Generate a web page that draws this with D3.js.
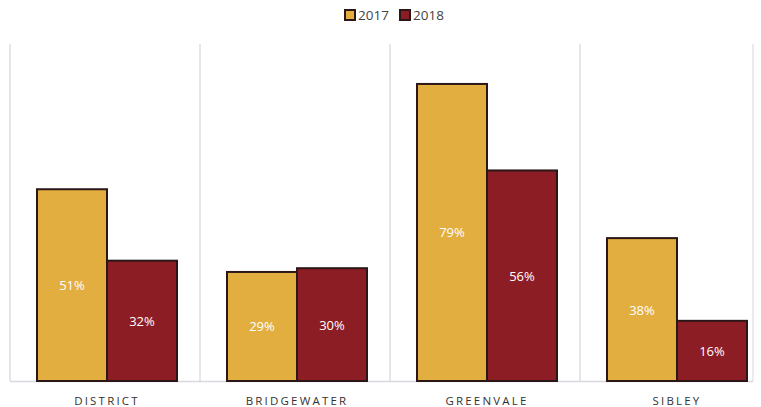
<!DOCTYPE html>
<html><head><meta charset="utf-8">
<script src="https://cdn.jsdelivr.net/npm/d3@7"></script>
<style>body{margin:0;background:#fff;} text{font-family:"Open Sans",sans-serif;}</style>
</head><body>
<svg id="c" width="761" height="407"></svg>
<script>
const categories = ["DISTRICT","BRIDGEWATER","GREENVALE","SIBLEY"];
const seriesNames = ["2017","2018"];
const values2017 = [51,29,79,38];
const values2018 = [32,30,56,16];
const colors = ["#E2AE3F","#8C1D25"];

const svg = d3.select("#c");
const x = d3.scaleBand().domain(categories).range([10,770]).paddingInner(0).paddingOuter(0);
const xs = d3.scaleBand().domain(seriesNames).range([27,x.bandwidth()-23]);
const y = d3.scaleLinear().domain([0,100]).range([381,5]);

// grid separators
const gridTop = 44;
const seps = categories.map(c=>x(c));
svg.selectAll("line.sep").data(seps).join("line")
  .attr("x1",d=>d).attr("x2",d=>d).attr("y1",gridTop).attr("y2",y(0))
  .attr("stroke","#dcdce4").attr("stroke-width",1.5);
svg.append("line").attr("x1",753).attr("x2",753).attr("y1",gridTop).attr("y2",y(0))
  .attr("stroke","#e4e4ea").attr("stroke-width",1.5);
svg.append("line").attr("x1",10).attr("x2",753).attr("y1",y(0)+0.5).attr("y2",y(0)+0.5)
  .attr("stroke","#d8d8e0").attr("stroke-width",1.5);

const data = [];
categories.forEach((c,i)=>{
  data.push({c, s:"2017", v:values2017[i], col:colors[0]});
  data.push({c, s:"2018", v:values2018[i], col:colors[1]});
});

const g = svg.append("g");
g.selectAll("rect").data(data).join("rect")
  .attr("x",d=>x(d.c)+xs(d.s)).attr("width",xs.bandwidth())
  .attr("y",d=>y(d.v)).attr("height",d=>y(0)-y(d.v))
  .attr("fill",d=>d.col).attr("stroke","#2b1717").attr("stroke-width",2);

g.selectAll("text.v").data(data).join("text")
  .attr("x",d=>x(d.c)+xs(d.s)+xs.bandwidth()/2)
  .attr("y",d=>(y(d.v)+y(0))/2+5)
  .attr("text-anchor","middle").attr("fill","#fff").attr("font-size",13)
  .text(d=>d.v+"%");

// category labels
svg.selectAll("text.cat").data(categories).join("text")
  .attr("x",d=>x(d)+x.bandwidth()/2+2).attr("y",405)
  .attr("text-anchor","middle").attr("fill","#333").attr("font-size",11.5)
  .attr("letter-spacing","2.2px").text(d=>d);

// legend
const legX = [345,400];
seriesNames.forEach((s,i)=>{
  svg.append("rect").attr("x",legX[i]).attr("y",10).attr("width",10).attr("height",10)
    .attr("fill",colors[i]).attr("stroke","#2b1717").attr("stroke-width",2);
  svg.append("text").attr("x",legX[i]+13).attr("y",20).attr("font-size",13.5)
    .attr("fill","#444").text(s);
});
</script>
</body></html>
